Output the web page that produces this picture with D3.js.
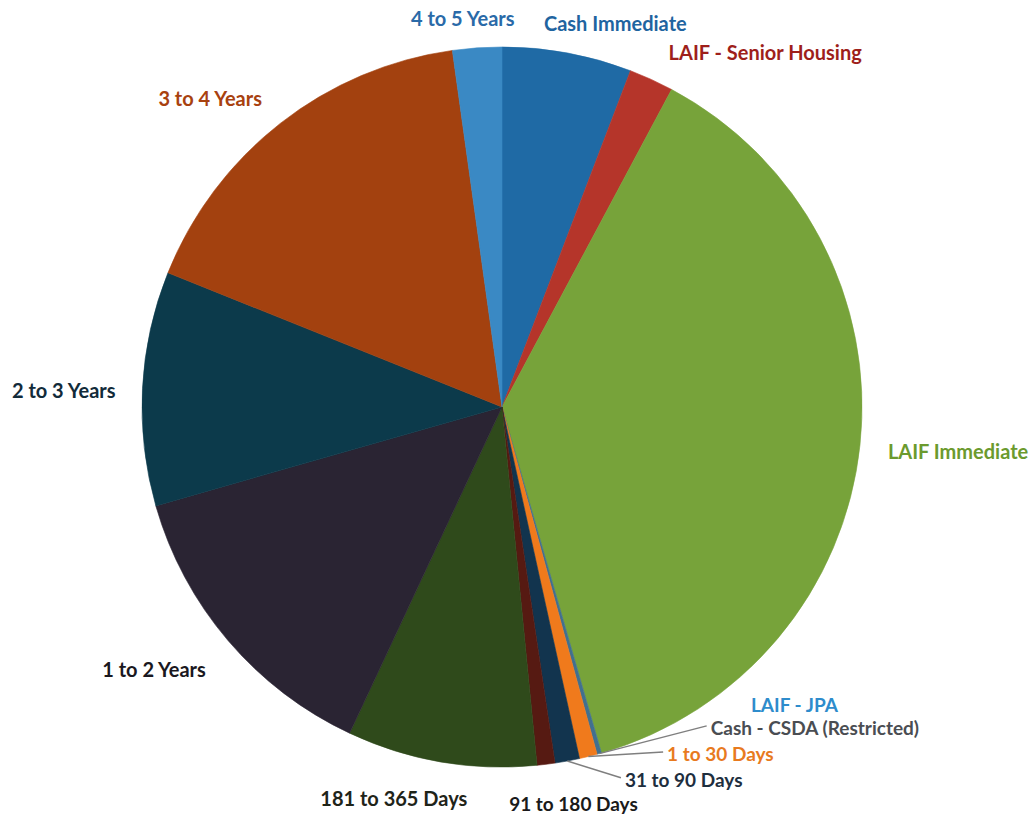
<!DOCTYPE html>
<html><head><meta charset="utf-8">
<script src="https://cdn.jsdelivr.net/npm/d3@7"></script>
<style>body{margin:0;background:#fff}svg{display:block}</style>
</head><body>
<svg id="chart" width="1031" height="825"></svg>
<script>
// ---- data ----
const categories = ["Cash Immediate", "LAIF - Senior Housing", "LAIF Immediate", "LAIF - JPA",
  "Cash - CSDA (Restricted)", "1 to 30 Days", "31 to 90 Days", "91 to 180 Days",
  "181 to 365 Days", "1 to 2 Years", "2 to 3 Years", "3 to 4 Years", "4 to 5 Years"];
const values = [5.8, 2.0, 37.7, 0, 0.2, 0.8, 1.1, 0.8, 8.5, 13.6, 10.5, 16.7, 2.2];
const sliceColors = ["#1f6aa5", "#b5352a", "#77a33a", "#3a8dc8", "#41708f", "#f07a1c",
  "#12344e", "#561a12", "#2f4a1b", "#2a2433", "#0c3a4b", "#a3410f", "#3a89c4"];
const labelColors = ["#1f64a0", "#9e1f1b", "#6b9a2e", "#2e8ccc", "#4a4d52", "#e87a1e",
  "#1e2e3e", "#1a1a1a", "#1f2419", "#1a1820", "#122b3a", "#a8410f", "#2a6aa8"];

// ---- layout (styling only) ----
const cx = 502, cy = 407, r = 360, labelR = 380;
const labelLayout = [
  {a: "start",  dx: -27, dy: -10, fs: 20},
  {a: "start",  dx: 9,   dy: -9,  fs: 20},
  {a: "start",  dx: 8,   dy: 4,   fs: 20},
  {a: "start",  dx: 144, dy: -68, fs: 19},
  {a: "start",  dx: 106, dy: -45, fs: 19, leader: true},
  {a: "start",  dx: 74,  dy: -22, fs: 19, leader: true},
  {a: "start",  dx: 54,  dy: -1,  fs: 19, leader: true},
  {a: "middle", dx: 25,  dy: 19,  fs: 19},
  {a: "middle", dx: -44, dy: 16,  fs: 20},
  {a: "end",    dx: -7,  dy: 15,  fs: 20},
  {a: "end",    dx: -7,  dy: 3,   fs: 20},
  {a: "end",    dx: -6,  dy: -10, fs: 20},
  {a: "middle", dx: -13, dy: -10, fs: 20}
];

const data = categories.map((c, i) => ({name: c, v: values[i], i}));
const svg = d3.select("#chart");
const pie = d3.pie().sort(null).value(d => d.v).startAngle(0).endAngle(2 * Math.PI);
const arcs = pie(data);
const arc = d3.arc().innerRadius(0).outerRadius(r);

const g = svg.append("g").attr("transform", `translate(${cx},${cy})`);
g.selectAll("path.slice").data(arcs.filter(d => d.data.v > 0)).join("path")
  .attr("class", "slice")
  .attr("d", arc)
  .attr("fill", d => sliceColors[d.data.i])
  .attr("stroke", d => sliceColors[d.data.i])
  .attr("stroke-width", 0.6);

const mid = d => (d.startAngle + d.endAngle) / 2;

arcs.forEach(d => {
  const i = d.data.i, m = mid(d), lay = labelLayout[i];
  const bx = labelR * Math.sin(m) + lay.dx, by = -labelR * Math.cos(m) + lay.dy;
  if (lay.leader) {
    g.append("line")
      .attr("x1", r * Math.sin(m)).attr("y1", -r * Math.cos(m))
      .attr("x2", bx - 4).attr("y2", by - 2)
      .attr("stroke", "#7f7f7f").attr("stroke-width", 1.5);
  }
  g.append("text")
    .attr("x", bx).attr("y", by)
    .attr("text-anchor", lay.a)
    .attr("dominant-baseline", "central")
    .attr("fill", labelColors[i])
    .style("font-family", "Lato, 'Open Sans', sans-serif")
    .style("font-weight", 700)
    .style("font-size", lay.fs + "px")
    .text(d.data.name);
});
</script>
</body></html>
